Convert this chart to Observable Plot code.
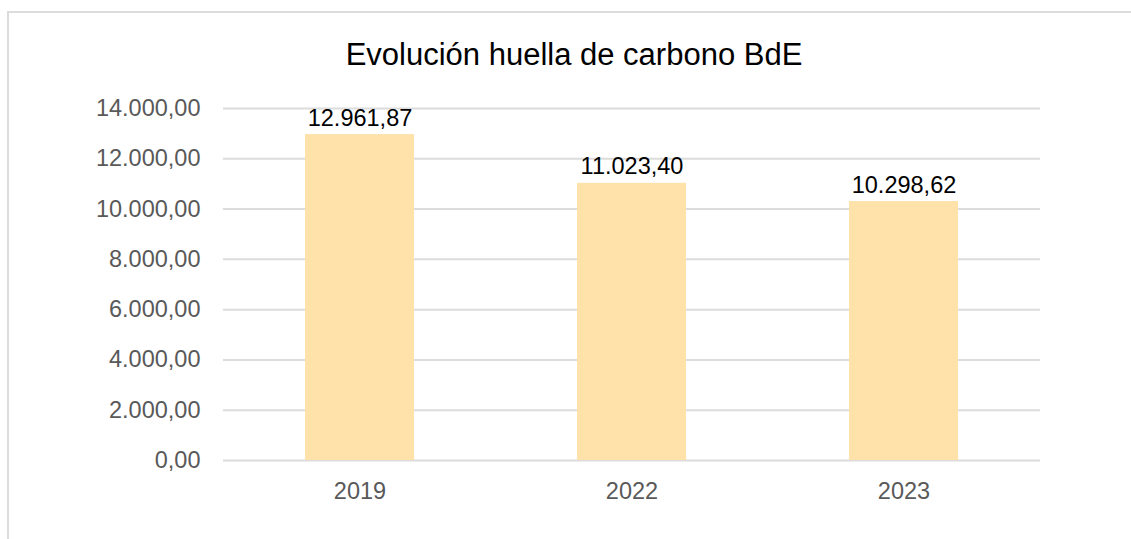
<!DOCTYPE html>
<html>
<head>
<meta charset="utf-8">
<script src="https://cdn.jsdelivr.net/npm/d3@7"></script>
<script src="https://cdn.jsdelivr.net/npm/@observablehq/plot@0.6"></script>
<style>
  html, body { margin: 0; padding: 0; background: #fff; overflow: hidden; width: 1131px; height: 539px; }
  #frame { position: absolute; left: 7px; top: 11px; width: 1200px; height: 600px; border: 2px solid #dcdcdc; box-sizing: border-box; }
  #wrap { position: absolute; left: 0; top: 0; width: 1131px; height: 539px; font-family: "Liberation Sans", Arial, sans-serif; }
  #title { height: 96px; box-sizing: border-box; padding-top: 39px; width: 1148px; text-align: center; font-size: 31px; line-height: 31px; color: #000; }
</style>
</head>
<body>
<div id="frame"></div>
<div id="wrap">
  <div id="title">Evolución huella de carbono BdE</div>
  <div id="chart"></div>
</div>
<script>
const years = ["2019", "2022", "2023"];
const values = [12961.87, 11023.40, 10298.62];
const yTicks = [0, 2000, 4000, 6000, 8000, 10000, 12000, 14000];

const data = years.map((y, i) => ({year: y, value: values[i]}));
const loc = d3.formatLocale({decimal: ",", thousands: ".", grouping: [3], currency: ["", "€"]});
const fmt = loc.format(",.2f");

const chart = Plot.plot({
  width: 1131,
  height: 443,
  marginLeft: 223,
  marginRight: 91,
  marginTop: 12,
  marginBottom: 79,
  style: {fontFamily: "'Liberation Sans', Arial, sans-serif", background: "transparent"},
  x: {type: "band", domain: years, paddingInner: 0.6, paddingOuter: 0.3, label: null},
  y: {domain: [0, 14000], label: null},
  marks: [
    Plot.ruleY(yTicks, {stroke: "#dcdcdc", strokeWidth: 2}),
    Plot.barY(data, {x: "year", y: "value", fill: "#ffe2a9"}),
    Plot.text(data, {x: "year", y: "value", text: d => fmt(d.value), lineAnchor: "bottom", dy: -9, fontSize: 23.5, fill: "#000"}),
    Plot.axisY({ticks: yTicks, tickFormat: fmt, tickSize: 0, tickPadding: 23, fontSize: 23.5, color: "#595959", label: null}),
    Plot.axisX({tickSize: 0, tickPadding: 22, fontSize: 23.5, color: "#595959", label: null})
  ]
});
document.getElementById("chart").appendChild(chart);
</script>
</body>
</html>
